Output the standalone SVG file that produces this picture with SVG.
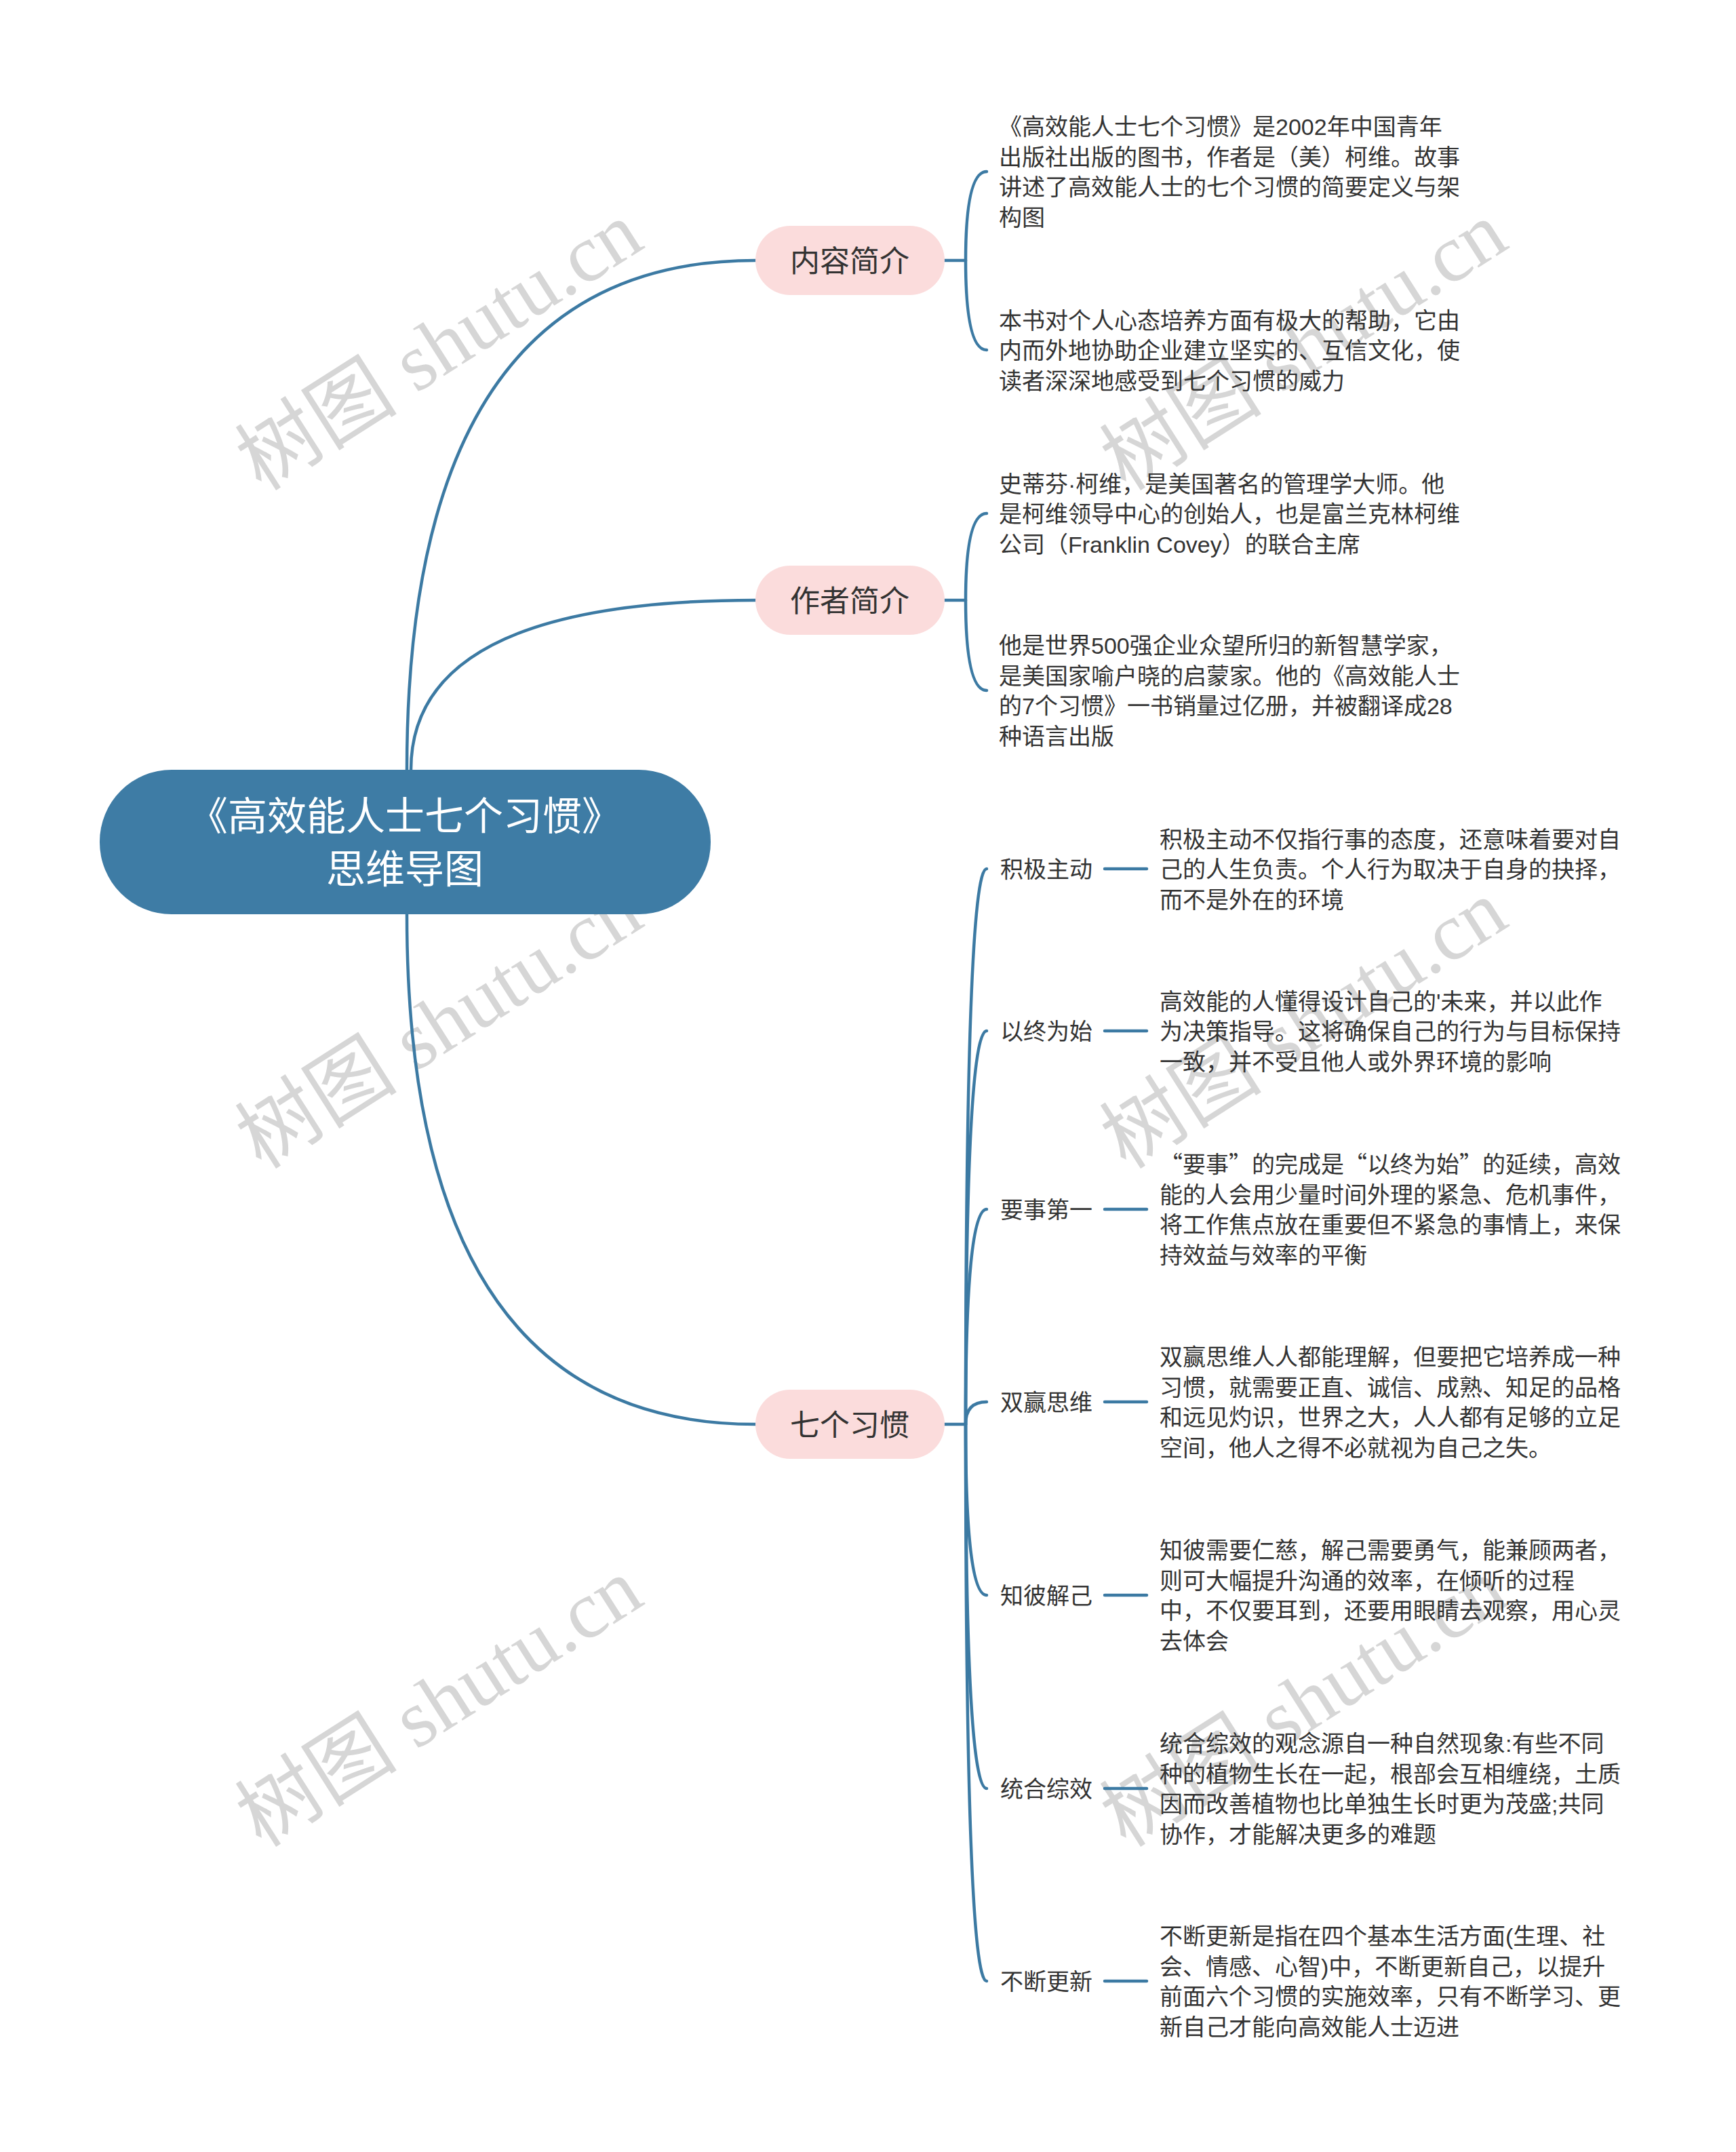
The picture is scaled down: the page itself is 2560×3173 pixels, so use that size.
<svg xmlns="http://www.w3.org/2000/svg" width="2560" height="3173" viewBox="0 0 2560 3173">
<style>
.wm{font-family:"Liberation Serif","Noto Sans CJK SC",serif;font-size:120px;fill:#d6d6d6;}
.con{fill:none;stroke:#3c7aa3;stroke-width:4.5;stroke-linecap:round;}
.root{fill:#3e7ca5;}
.rootT{font-family:"Liberation Sans","Noto Sans CJK SC",sans-serif;font-size:58px;fill:#ffffff;text-anchor:middle;}
.pill{fill:#fbdcdc;}
.pillT{font-family:"Liberation Sans","Noto Sans CJK SC",sans-serif;font-size:44px;fill:#333333;text-anchor:middle;}
.t{font-family:"Liberation Sans","Noto Sans CJK SC",sans-serif;font-size:34px;fill:#333333;}
.cjk{font-family:"Noto Sans CJK SC",sans-serif;}
</style>
<rect width="2560" height="3173" fill="#ffffff"/>
<g id="watermarks">
<text class="wm" transform="translate(648,511) rotate(-32.5)" x="0" y="40" text-anchor="middle">树图 shutu.cn</text>
<text class="wm" transform="translate(1923,511) rotate(-32.5)" x="0" y="40" text-anchor="middle">树图 shutu.cn</text>
<text class="wm" transform="translate(648,1511) rotate(-32.5)" x="0" y="40" text-anchor="middle">树图 shutu.cn</text>
<text class="wm" transform="translate(1923,1511) rotate(-32.5)" x="0" y="40" text-anchor="middle">树图 shutu.cn</text>
<text class="wm" transform="translate(648,2511) rotate(-32.5)" x="0" y="40" text-anchor="middle">树图 shutu.cn</text>
<text class="wm" transform="translate(1923,2511) rotate(-32.5)" x="0" y="40" text-anchor="middle">树图 shutu.cn</text>
</g>
<g id="connectors">
<path class="con" d="M600 1135 Q600 384 1114 384"/>
<path class="con" d="M606 1135 Q606 885 1114 885"/>
<path class="con" d="M600 1348 Q600 2100 1114 2100"/>
<path class="con" d="M1393 384 L1424 384"/>
<path class="con" d="M1424 384 Q1424 253 1455 253"/>
<path class="con" d="M1424 384 Q1424 516 1455 516"/>
<path class="con" d="M1393 885 L1424 885"/>
<path class="con" d="M1424 885 Q1424 757 1455 757"/>
<path class="con" d="M1424 885 Q1424 1018 1455 1018"/>
<path class="con" d="M1393 2100 L1424 2100"/>
<path class="con" d="M1424 2100 Q1424 1281 1455 1281"/>
<path class="con" d="M1424 2100 Q1424 1520 1455 1520"/>
<path class="con" d="M1424 2100 Q1424 1783 1455 1783"/>
<path class="con" d="M1424 2100 Q1424 2067 1455 2067"/>
<path class="con" d="M1424 2100 Q1424 2352 1455 2352"/>
<path class="con" d="M1424 2100 Q1424 2637 1455 2637"/>
<path class="con" d="M1424 2100 Q1424 2921 1455 2921"/>
<path class="con" d="M1629 1281 L1691 1281"/>
<path class="con" d="M1629 1520 L1691 1520"/>
<path class="con" d="M1629 1783 L1691 1783"/>
<path class="con" d="M1629 2067 L1691 2067"/>
<path class="con" d="M1629 2352 L1691 2352"/>
<path class="con" d="M1629 2637 L1691 2637"/>
<path class="con" d="M1629 2921 L1691 2921"/>
</g>
<g id="root">
<rect class="root" x="147" y="1135" width="901" height="213" rx="106" ry="106"/>
<text class="rootT" x="597" y="1224">《高效能人士七个习惯》</text>
<text class="rootT" x="597" y="1302">思维导图</text>
</g>
<g id="n-neirong">
<rect class="pill" x="1114" y="333" width="279" height="102" rx="51"/>
<text class="pillT" x="1253" y="401">内容简介</text>
</g>
<g id="n-neirong-1">
<text class="t" x="1473" y="199"><tspan x="1473">《高效能人士七个习惯》是2002年中国青年</tspan><tspan x="1473" dy="44.5">出版社出版的图书，作者是（美）柯维。故事</tspan><tspan x="1473" dy="44.5">讲述了高效能人士的七个习惯的简要定义与架</tspan><tspan x="1473" dy="44.5">构图</tspan></text>
</g>
<g id="n-neirong-2">
<text class="t" x="1473" y="484.5"><tspan x="1473">本书对个人心态培养方面有极大的帮助，它由</tspan><tspan x="1473" dy="44.5">内而外地协助企业建立坚实的、互信文化，使</tspan><tspan x="1473" dy="44.5">读者深深地感受到七个习惯的威力</tspan></text>
</g>
<g id="n-zuozhe">
<rect class="pill" x="1114" y="834" width="279" height="102" rx="51"/>
<text class="pillT" x="1253" y="902">作者简介</text>
</g>
<g id="n-zuozhe-1">
<text class="t" x="1473" y="725.5"><tspan x="1473">史蒂芬·柯维，是美国著名的管理学大师。他</tspan><tspan x="1473" dy="44.5">是柯维领导中心的创始人，也是富兰克林柯维</tspan><tspan x="1473" dy="44.5">公司（Franklin Covey）的联合主席</tspan></text>
</g>
<g id="n-zuozhe-2">
<text class="t" x="1473" y="964.25"><tspan x="1473">他是世界500强企业众望所归的新智慧学家，</tspan><tspan x="1473" dy="44.5">是美国家喻户晓的启蒙家。他的《高效能人士</tspan><tspan x="1473" dy="44.5">的7个习惯》一书销量过亿册，并被翻译成28</tspan><tspan x="1473" dy="44.5">种语言出版</tspan></text>
</g>
<g id="n-xiguan">
<rect class="pill" x="1114" y="2049" width="279" height="102" rx="51"/>
<text class="pillT" x="1253" y="2117">七个习惯</text>
</g>
<g id="h1">
<text class="t" x="1475" y="1294">积极主动</text>
<text class="t" x="1710" y="1249.5"><tspan x="1710">积极主动不仅指行事的态度，还意味着要对自</tspan><tspan x="1710" dy="44.5">己的人生负责。个人行为取决于自身的抉择，</tspan><tspan x="1710" dy="44.5">而不是外在的环境</tspan></text>
</g>
<g id="h2">
<text class="t" x="1475" y="1533">以终为始</text>
<text class="t" x="1710" y="1488.5"><tspan x="1710">高效能的人懂得设计自己的'未来，并以此作</tspan><tspan x="1710" dy="44.5">为决策指导。这将确保自己的行为与目标保持</tspan><tspan x="1710" dy="44.5">一致，并不受且他人或外界环境的影响</tspan></text>
</g>
<g id="h3">
<text class="t" x="1475" y="1796">要事第一</text>
<text class="t cjk" x="1710" y="1729.25"><tspan x="1710">“要事”的完成是“以终为始”的延续，高效</tspan><tspan x="1710" dy="44.5">能的人会用少量时间外理的紧急、危机事件，</tspan><tspan x="1710" dy="44.5">将工作焦点放在重要但不紧急的事情上，来保</tspan><tspan x="1710" dy="44.5">持效益与效率的平衡</tspan></text>
</g>
<g id="h4">
<text class="t" x="1475" y="2080">双赢思维</text>
<text class="t" x="1710" y="2013.25"><tspan x="1710">双赢思维人人都能理解，但要把它培养成一种</tspan><tspan x="1710" dy="44.5">习惯，就需要正直、诚信、成熟、知足的品格</tspan><tspan x="1710" dy="44.5">和远见灼识，世界之大，人人都有足够的立足</tspan><tspan x="1710" dy="44.5">空间，他人之得不必就视为自己之失。</tspan></text>
</g>
<g id="h5">
<text class="t" x="1475" y="2365">知彼解己</text>
<text class="t" x="1710" y="2298.25"><tspan x="1710">知彼需要仁慈，解己需要勇气，能兼顾两者，</tspan><tspan x="1710" dy="44.5">则可大幅提升沟通的效率，在倾听的过程</tspan><tspan x="1710" dy="44.5">中，不仅要耳到，还要用眼睛去观察，用心灵</tspan><tspan x="1710" dy="44.5">去体会</tspan></text>
</g>
<g id="h6">
<text class="t" x="1475" y="2650">统合综效</text>
<text class="t" x="1710" y="2583.25"><tspan x="1710">统合综效的观念源自一种自然现象:有些不同</tspan><tspan x="1710" dy="44.5">种的植物生长在一起，根部会互相缠绕，土质</tspan><tspan x="1710" dy="44.5">因而改善植物也比单独生长时更为茂盛;共同</tspan><tspan x="1710" dy="44.5">协作，才能解决更多的难题</tspan></text>
</g>
<g id="h7">
<text class="t" x="1475" y="2934">不断更新</text>
<text class="t" x="1710" y="2867.25"><tspan x="1710">不断更新是指在四个基本生活方面(生理、社</tspan><tspan x="1710" dy="44.5">会、情感、心智)中，不断更新自己，以提升</tspan><tspan x="1710" dy="44.5">前面六个习惯的实施效率，只有不断学习、更</tspan><tspan x="1710" dy="44.5">新自己才能向高效能人士迈进</tspan></text>
</g>
</svg>
